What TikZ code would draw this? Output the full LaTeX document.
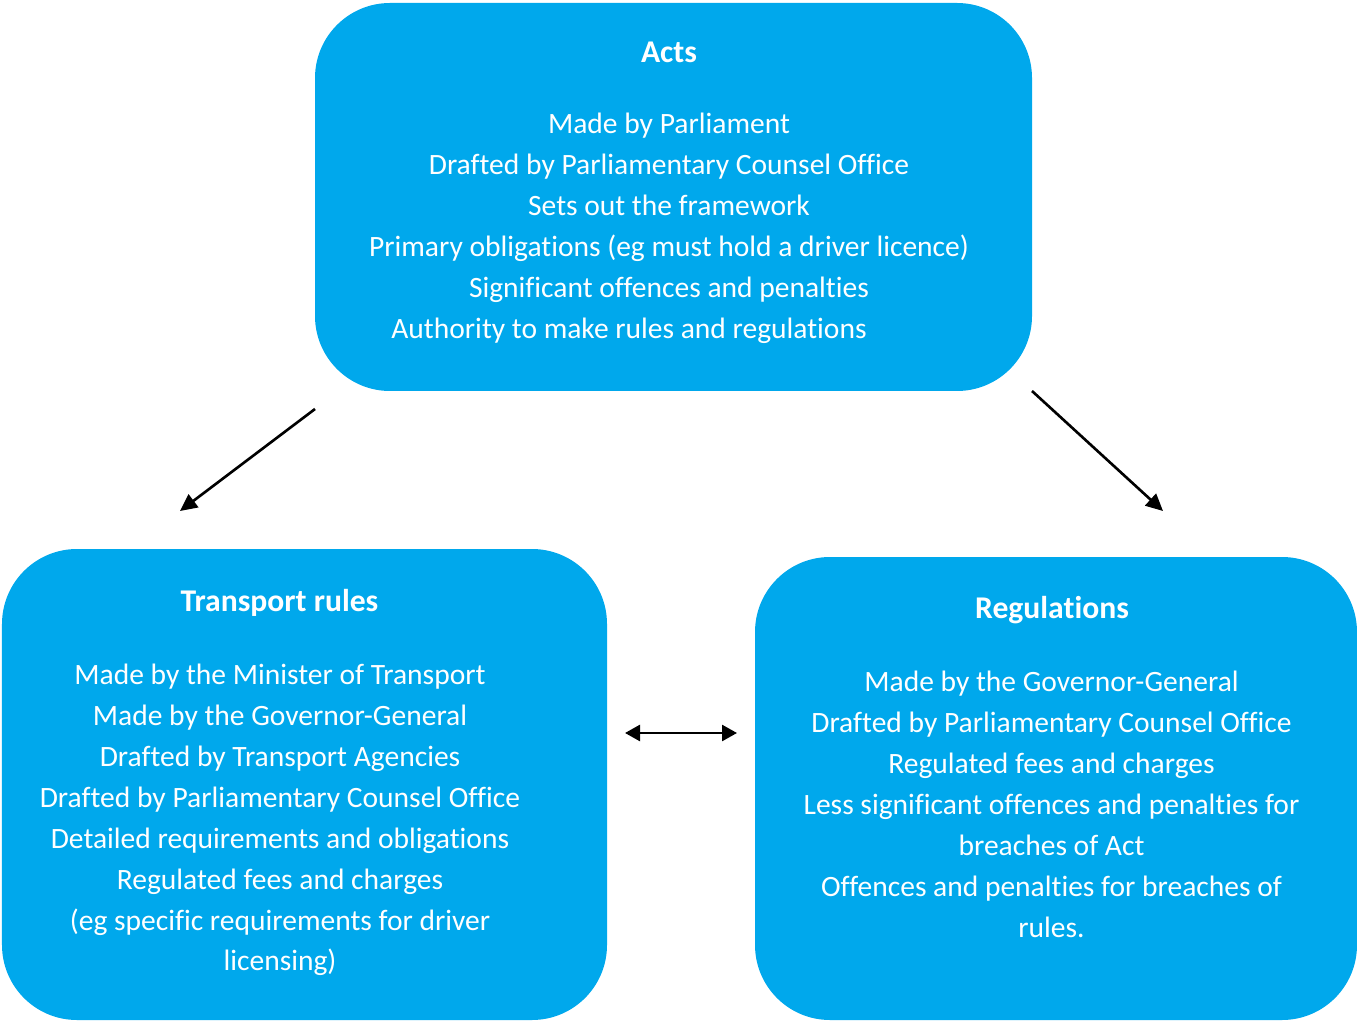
\documentclass[tikz,border=0pt]{standalone}
\usepackage{fontspec}
\setmainfont{Carlito}[Ligatures=NoCommon]
\usepackage{tikz}
\usetikzlibrary{arrows.meta}
\definecolor{boxblue}{RGB}{0,168,236}
\tikzset{
    lawbox/.style={draw=none, fill=boxblue, rounded corners=1.5cm, inner sep=0pt},
    boxtitle/.style={text=white, anchor=base, inner sep=0pt, font={\fontsize{18pt}{23.25pt}\selectfont\bfseries}},
    boxtext/.style={text=white, anchor=north, inner sep=0pt, align=center, font={\fontsize{16.8pt}{23.25pt}\selectfont}},
    conn/.style={line width=1.5pt, -{Triangle[length=0.34cm,width=0.32cm]}},
}

\begin{document}
\begin{tikzpicture}
    \useasboundingbox (0,0) rectangle (27.14,-20.42);

    % boxes
    \node[lawbox, minimum width=14.34cm, minimum height=7.76cm] (acts) at (13.47,-3.94) {};
    \node[lawbox, minimum width=12.1cm, minimum height=9.42cm] (rules) at (6.09,-15.69) {};
    \node[lawbox, minimum width=12.04cm, minimum height=9.26cm] (regs) at (21.12,-15.77) {};

    % Acts
    \node[boxtitle] (actstitle) at (13.38,-1.26) {Acts};
    \node[boxtext] (actstext) at (13.38,-2.26) {Made by Parliament\\
        Drafted by Parliamentary Counsel Office\\
        Sets out the framework\\
        Primary obligations (eg must hold a driver licence)\\
        Significant offences and penalties\\
        Authority to make rules and regulations\hspace*{1.6cm}};

    % Transport rules
    \node[boxtitle] (rulestitle) at (5.59,-12.22) {Transport rules};
    \node[boxtext] (rulestext) at (5.6,-13.28) {Made by the Minister of Transport\\
        Made by the Governor-General\\
        Drafted by Transport Agencies\\
        Drafted by Parliamentary Counsel Office\\
        Detailed requirements and obligations\\
        Regulated fees and charges\\
        (eg specific requirements for driver\\
        licensing)};

    % Regulations
    \node[boxtitle] (regstitle) at (21.04,-12.36) {Regulations};
    \node[boxtext] (regstext) at (21.03,-13.42) {Made by the Governor-General\\
        Drafted by Parliamentary Counsel Office\\
        Regulated fees and charges\\
        Less significant offences and penalties for\\
        breaches of Act\\
        Offences and penalties for breaches of\\
        rules.};

    % connectors
    \coordinate (actsL) at (6.3,-8.18);
    \coordinate (rulesT) at (3.6,-10.22);
    \coordinate (actsR) at (20.64,-7.82);
    \coordinate (regsT) at (23.26,-10.22);
    \coordinate (rulesR) at (12.5,-14.66);
    \coordinate (regsL) at (14.74,-14.66);
    \draw[conn] (actsL) -- (rulesT);
    \draw[conn] (actsR) -- (regsT);
    \draw[conn, {Triangle[length=0.3cm,width=0.32cm]}-{Triangle[length=0.3cm,width=0.32cm]}] (rulesR) -- (regsL);
\end{tikzpicture}
\end{document}
